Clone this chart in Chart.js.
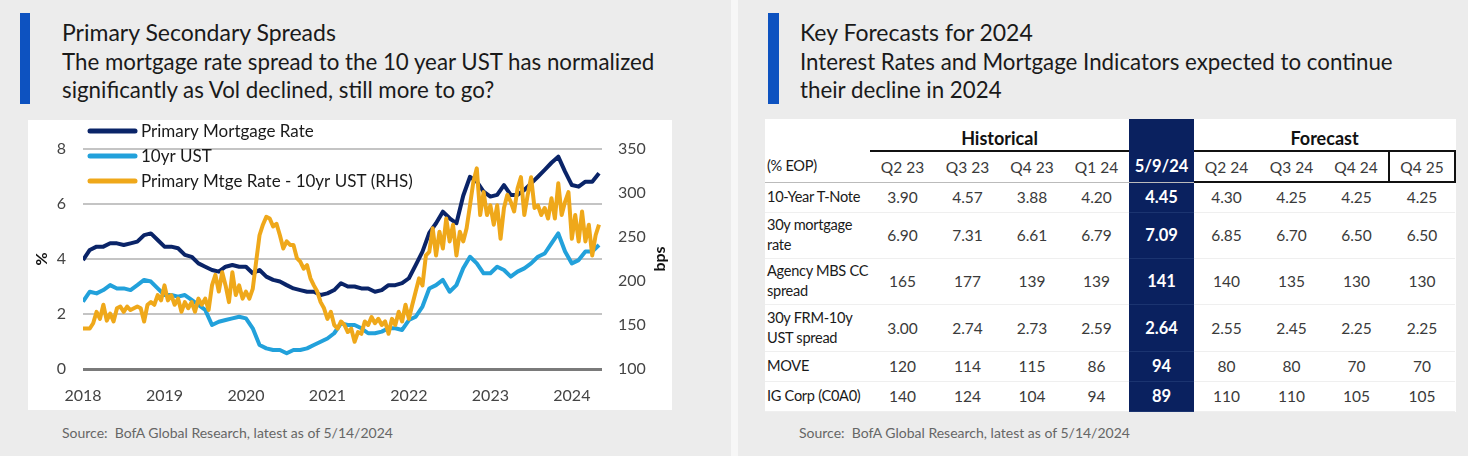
<!DOCTYPE html>
<html>
<head>
<meta charset="utf-8">
<script src="https://cdn.jsdelivr.net/npm/chart.js@4.4.1/dist/chart.umd.min.js"></script>
<style>
  body { margin: 0; width: 1468px; height: 456px; background: #ececec; position: relative; overflow: hidden; font-family: Lato, "Open Sans", sans-serif; color: #1a1a1a; }
  .sep { position: absolute; left: 731px; top: 0; width: 7px; height: 456px; background: #f7f7f7; }
  .bar { position: absolute; top: 13px; width: 10px; height: 91px; background: #0d52c0; }
  .head { position: absolute; top: 18px; font-size: 22.3px; line-height: 28.5px; white-space: nowrap; }
  .head .t { font-size: 23px; }
  .source { position: absolute; top: 424px; font-family: "Liberation Sans Narrow", Lato, sans-serif; font-size: 14px; color: #666; }
  .box { position: absolute; left: 28px; top: 120px; width: 644px; height: 290px; background: #fff; }
  #tbl { position: absolute; left: 765px; top: 119px; border-collapse: collapse; table-layout: fixed; background: #fff; font-size: 15.5px; }
  #tbl td { padding: 0; text-align: center; color: #3a3a3a; border-bottom: 1px solid #efefef; white-space: nowrap; overflow: hidden; }
  #tbl td.lbl { text-align: left; padding-left: 2px; color: #1a1a1a; line-height: 20px; font-size: 14.6px; letter-spacing: -0.3px; }
  #tbl td.hl { background: #0a215f; color: #fff; font-weight: bold; font-size: 16.5px; border-bottom-color: #1b3470; }
  #tbl tr.grp td { border-bottom: none; font-weight: bold; font-size: 18px; color: #111; vertical-align: bottom; padding-bottom: 1px; }
  #tbl tr.grp td.under { border-bottom: 2px solid #111; }
  #tbl tr.cols td { border-bottom: 1px solid #bbb; }
  #tbl tr.cols td.fc { border-top: 2px solid #111; border-bottom: 2px solid #111; }
  #tbl tr.cols td.last { border-left: 2px solid #111; border-right: 2px solid #111; }
</style>
</head>
<body>
<div class="sep"></div>

<div class="bar" style="left:20px"></div>
<div class="head" style="left:62px"><span class="t">Primary Secondary Spreads</span><br>The mortgage rate spread to the 10 year UST has normalized<br>significantly as Vol declined, still more to go?</div>
<div class="box"><canvas id="spreads"></canvas></div>
<div class="source" style="left:62px">Source:&nbsp; BofA Global Research, latest as of 5/14/2024</div>

<div class="bar" style="left:768px; width:11px"></div>
<div class="head" style="left:800px"><span class="t">Key Forecasts for 2024</span><br>Interest Rates and Mortgage Indicators expected to continue<br>their decline in 2024</div>
<table id="tbl"></table>
<div class="source" style="left:799px">Source:&nbsp; BofA Global Research, latest as of 5/14/2024</div>

<script>
// monthly from Jan 2018, %
const mortgageRate = [
  3.96, 4.33, 4.45, 4.45, 4.57, 4.57, 4.51, 4.57, 4.63, 4.87, 4.93, 4.69,
  4.45, 4.45, 4.39, 4.15, 4.08, 3.84, 3.72, 3.60, 3.54, 3.72, 3.78, 3.72,
  3.72, 3.48, 3.60, 3.36, 3.24, 3.18, 3.05, 2.93, 2.87, 2.81, 2.81, 2.69,
  2.75, 2.87, 3.12, 3.00, 3.00, 2.93, 2.93, 2.81, 2.87, 3.05, 3.05, 3.12,
  3.30, 3.78, 4.27, 4.95, 5.30, 5.72, 5.48, 5.30, 6.30, 6.99, 6.81, 6.45,
  6.27, 6.33, 6.69, 6.33, 6.33, 6.51, 6.75, 6.99, 7.24, 7.50, 7.72, 7.18,
  6.69, 6.63, 6.81, 6.81, 7.12
];
const ust10y = [
  2.45, 2.81, 2.75, 2.87, 3.05, 2.93, 2.93, 2.87, 3.05, 3.24, 3.18, 2.93,
  2.69, 2.69, 2.63, 2.69, 2.51, 2.33, 2.15, 1.60, 1.72, 1.78, 1.84, 1.90,
  1.84, 1.48, 0.87, 0.75, 0.69, 0.69, 0.57, 0.69, 0.69, 0.75, 0.87, 0.99,
  1.11, 1.30, 1.66, 1.60, 1.60, 1.48, 1.30, 1.30, 1.36, 1.48, 1.48, 1.42,
  1.78, 1.90, 2.27, 2.93, 3.05, 3.24, 2.81, 3.05, 3.66, 4.08, 3.84, 3.48,
  3.48, 3.72, 3.60, 3.36, 3.54, 3.66, 3.84, 4.08, 4.20, 4.57, 4.93, 4.27,
  3.84, 3.96, 4.27, 4.27, 4.51
];
// twice a month from Jan 2018, bps (RHS)
const spreadBps = [
  146, 146, 146, 152, 165, 157, 173, 155, 163, 154, 169, 171, 165, 171, 167, 169, 171, 169, 154, 173,
  176, 173, 184, 178, 195, 178, 184, 173, 180, 165, 176, 169, 176, 165, 180, 173, 180, 167, 195, 207,
  188, 210, 195, 176, 210, 184, 195, 180, 188, 180, 191, 222, 252, 264, 273, 271, 262, 265, 252, 237,
  245, 241, 241, 226, 222, 214, 218, 203, 195, 188, 176, 169, 157, 165, 150, 146, 154, 150, 142, 146,
  131, 142, 140, 154, 150, 159, 152, 157, 150, 154, 140, 157, 150, 165, 154, 173, 157, 173, 188, 203,
  195, 229, 233, 260, 229, 256, 237, 271, 245, 264, 229, 256, 245, 260, 286, 313, 328, 275, 301, 275,
  286, 264, 286, 248, 283, 298, 290, 279, 305, 318, 275, 298, 318, 283, 286, 275, 283, 271, 294, 271,
  311, 275, 290, 301, 248, 275, 245, 279, 245, 264, 229, 252, 264
];
const seriesNames = ['Primary Mortgage Rate', '10yr UST', 'Primary Mtge Rate - 10yr UST (RHS)'];
const seriesColors = ['#0a2468', '#22a1db', '#efa81a'];

// table
const tableCols = ['Q2 23', 'Q3 23', 'Q4 23', 'Q1 24', '5/9/24', 'Q2 24', 'Q3 24', 'Q4 24', 'Q4 25'];
const rowLabels = ['10-Year T-Note', '30y mortgage\nrate', 'Agency MBS CC\nspread', '30y FRM-10y\nUST spread', 'MOVE', 'IG Corp (C0A0)'];
const tNote10y = ['3.90', '4.57', '3.88', '4.20', '4.45', '4.30', '4.25', '4.25', '4.25'];
const mortgage30y = ['6.90', '7.31', '6.61', '6.79', '7.09', '6.85', '6.70', '6.50', '6.50'];
const mbsSpread = ['165', '177', '139', '139', '141', '140', '135', '130', '130'];
const frmSpread = ['3.00', '2.74', '2.73', '2.59', '2.64', '2.55', '2.45', '2.25', '2.25'];
const moveIdx = ['120', '114', '115', '86', '94', '80', '80', '70', '70'];
const igCorp = ['140', '124', '104', '94', '89', '110', '110', '105', '105'];

const toPoints = (vals, perYear) => vals.map((v, i) => ({ x: 2018 + i / perYear, y: v }));

const overlay = {
  id: 'overlay',
  afterDraw(chart) {
    const { ctx, chartArea: a } = chart;
    ctx.save();
    // axis titles, both read bottom to top
    ctx.font = 'bold 16px Lato';
    ctx.fillStyle = '#111';
    ctx.textAlign = 'center';
    ctx.textBaseline = 'middle';
    [['%', a.left - 41], ['bps', a.right + 58]].forEach(([t, x]) => {
      ctx.save();
      ctx.translate(x, (a.top + a.bottom) / 2);
      ctx.rotate(-Math.PI / 2);
      ctx.fillText(t, 0, 0);
      ctx.restore();
    });
    // legend sits inside the plot, top left
    ctx.font = '17px Lato';
    ctx.textAlign = 'left';
    ctx.lineCap = 'round';
    ctx.lineWidth = 5;
    seriesNames.forEach((name, i) => {
      const y = a.top - 18 + i * 25;
      ctx.strokeStyle = seriesColors[i];
      ctx.beginPath();
      ctx.moveTo(a.left + 7, y);
      ctx.lineTo(a.left + 52, y);
      ctx.stroke();
      ctx.fillStyle = '#1a1a1a';
      ctx.fillText(name, a.left + 58, y + 1);
    });
    ctx.restore();
  }
};

const lineDs = (i, data, axis, order) => ({
  label: seriesNames[i],
  data: data,
  yAxisID: axis,
  borderColor: seriesColors[i],
  borderWidth: 4,
  pointRadius: 0,
  tension: 0,
  borderJoinStyle: 'round',
  order: order,
});

new Chart(document.getElementById('spreads'), {
  type: 'line',
  data: {
    datasets: [
      lineDs(0, toPoints(mortgageRate, 12), 'y', 1),
      lineDs(1, toPoints(ust10y, 12), 'y', 2),
      lineDs(2, toPoints(spreadBps, 24), 'y2', 0),
    ],
  },
  options: {
    responsive: true,
    maintainAspectRatio: false,
    animation: false,
    layout: { padding: { top: 29 } },
    plugins: { legend: { display: false }, tooltip: { enabled: false } },
    scales: {
      x: {
        type: 'linear',
        min: 2018,
        max: 2024.37,
        afterFit: (s) => { s.height = 41; },
        grid: { display: false },
        border: { display: false },
        ticks: {
          stepSize: 1,
          includeBounds: false,
          autoSkip: false,
          maxRotation: 0,
          padding: 9,
          color: '#444',
          font: { family: 'Lato', size: 16 },
          callback: (v) => Number.isInteger(v) ? String(v) : '',
        },
      },
      y: {
        position: 'left',
        min: 0,
        max: 8,
        afterFit: (s) => { s.width = 55; },
        border: { display: false },
        grid: {
          drawTicks: false,
          color: (c) => c.tick.value === 0 ? '#7a7a7a' : '#c4c4c4',
          lineWidth: (c) => c.tick.value === 0 ? 3 : 2,
        },
        ticks: { stepSize: 2, padding: 17, color: '#444', font: { family: 'Lato', size: 16 } },
      },
      y2: {
        position: 'right',
        min: 100,
        max: 350,
        afterFit: (s) => { s.width = 70; },
        border: { display: false },
        grid: { display: false, drawTicks: false },
        ticks: { stepSize: 50, padding: 16, color: '#444', font: { family: 'Lato', size: 16 } },
      },
    },
  },
  plugins: [overlay],
});

// build the table from the arrays above
const tbl = document.getElementById('tbl');
const widths = [105, 65, 65, 64, 65, 65, 65, 65, 65, 66];
tbl.innerHTML = '<colgroup>' + widths.map(w => `<col style="width:${w}px">`).join('') + '</colgroup>';
tbl.style.width = widths.reduce((s, w) => s + w, 0) + 'px';

let html = '<tr class="grp" style="height:32px"><td></td>'
  + '<td colspan="4" class="under">Historical</td><td class="hl"></td>'
  + '<td colspan="4">Forecast</td></tr>';
html += '<tr class="cols" style="height:31px"><td class="lbl">(% EOP)</td>'
  + tableCols.map((c, i) => {
    if (i === 4) return `<td class="hl">${c}</td>`;
    if (i > 4) return `<td class="fc${i === 8 ? ' last' : ''}">${c}</td>`;
    return `<td>${c}</td>`;
  }).join('') + '</tr>';
const rows = [tNote10y, mortgage30y, mbsSpread, frmSpread, moveIdx, igCorp];
const heights = [30, 46, 46, 47, 30, 30];
rows.forEach((vals, r) => {
  html += `<tr style="height:${heights[r]}px"><td class="lbl">${rowLabels[r].replace('\n', '<br>')}</td>`
    + vals.map((v, i) => `<td${i === 4 ? ' class="hl"' : ''}>${v}</td>`).join('') + '</tr>';
});
tbl.innerHTML += html;
</script>
</body>
</html>
